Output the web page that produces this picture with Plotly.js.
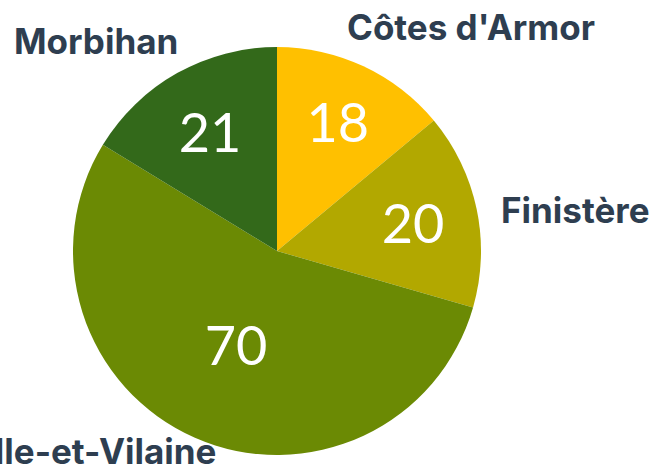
<!DOCTYPE html>
<html>
<head>
<meta charset="utf-8">
<script src="https://cdn.plot.ly/plotly-3.0.1.min.js"></script>
<style>html,body{margin:0;padding:0;background:#fff;}#chart{width:654px;height:468px;}</style>
</head>
<body>
<div id="chart"></div>
<script>
const departements = ["Côtes d'Armor", "Finistère", "Ille-et-Vilaine", "Morbihan"];
const valeurs = [18, 20, 70, 21];
const couleurs = ["#FFC000", "#B2A800", "#6B8A04", "#33691A"];

// label placement (paper coords) for each department
const labelPos = [
  {x: 471/654, y: 1 - 27/468, xanchor: "center"},
  {x: 575/654, y: 1 - 210/468, xanchor: "center"},
  {x: 218/654, y: 1 - 451/468, xanchor: "right"},
  {x: 96/654,  y: 1 - 41/468, xanchor: "center"}
];

const trace = {
  type: "pie",
  labels: departements,
  values: valeurs,
  sort: false,
  direction: "clockwise",
  rotation: 0,
  marker: {colors: couleurs, line: {width: 0}},
  textinfo: "value",
  textposition: "inside",
  insidetextorientation: "horizontal",
  textfont: {family: "Lato, sans-serif", size: 54, color: "#ffffff", weight: 400},
  hoverinfo: "label+value",
  domain: {x: [73/654, 481/654], y: [13/468, 421/468]},
  showlegend: false
};

const annotations = departements.map((d, i) => ({
  text: "<b>" + d + "</b>",
  xref: "paper", yref: "paper",
  x: labelPos[i].x, y: labelPos[i].y,
  xanchor: labelPos[i].xanchor, yanchor: "middle",
  showarrow: false,
  font: {family: "Inter, sans-serif", size: 35, color: "#2E3E50"}
}));

const layout = {
  width: 654, height: 468,
  margin: {l: 0, r: 0, t: 0, b: 0},
  paper_bgcolor: "#ffffff",
  showlegend: false,
  annotations: annotations
};

Plotly.newPlot("chart", [trace], layout, {displayModeBar: false, staticPlot: true});
</script>
</body>
</html>
